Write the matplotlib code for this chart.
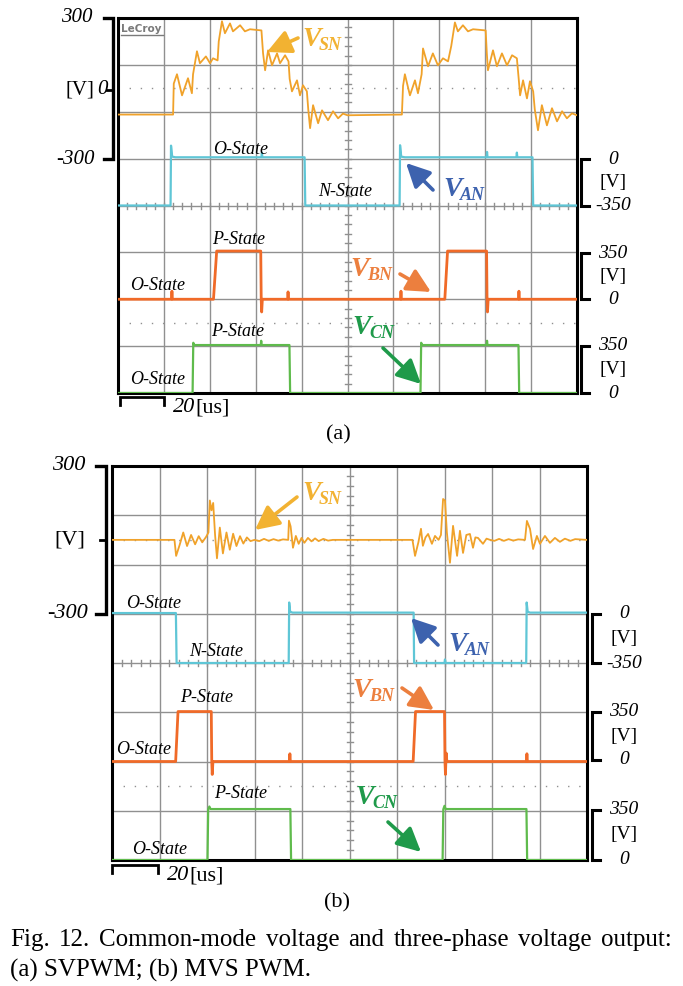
import matplotlib.pyplot as plt
from matplotlib.patches import FancyArrowPatch

plt.rcParams['font.family'] = ['Liberation Serif', 'DejaVu Serif']

W, H = 683, 986

# time axis of both scope shots: 20 us/div, 10 div
t_span = 200

# (a) SVPWM traces, time in us, voltage in V
svpwm_vsn_t = [0, 24.0, 24.3, 25.7, 27.9, 30.5, 32.2, 32.7, 34.4, 35.7, 38.3, 40.1, 41.4, 43.4,
               43.9, 45.3, 46.6, 48.8, 50.1, 53.2, 55.3, 57.5, 62.5, 63.2, 64.1, 65.4, 67.1, 69.3,
               70.6, 72.8, 74.3, 74.8, 75.8, 78.0, 79.3, 80.6, 82.3, 82.9, 83.7, 85.0, 87.2, 88.9,
               91.5, 93.7, 95.9, 98.0, 100.0, 123.7, 124.2, 125.0, 127.2, 129.4, 130.7, 132.3,
               132.9, 135.1, 137.2, 139.4, 141.6, 143.8, 145.2, 146.8, 148.1, 150.3, 152.5, 154.7,
               160.2, 160.7, 161.2, 163.4, 165.1, 167.3, 169.5, 171.7, 173.8, 174.6, 175.2, 176.5,
               178.2, 179.5, 180.9, 181.6, 183.0, 184.7, 186.9, 189.1, 191.3, 193.5, 195.6, 197.8, 200]
svpwm_vsn_v = [-112, -112, 20, 60, -30, 43, -21, 60, 158, 107, 136, 107, 128, 119,
               200, 286, 235, 277, 243, 269, 243, 252, 247, 150, 77, 162, 98, 149,
               107, 141, 115, 40, -13, 34, -30, 13, -13, -90, -170, -72, -149, -94,
               -136, -98, -128, -108, -115, -112, 10, 60, -30, 34, -21, 60,
               170, 94, 149, 98, 128, 115, 180, 281, 243, 269, 243, 252,
               247, 150, 77, 162, 94, 149, 98, 141, 128, 40, -30, 34,
               -43, 30, -13, -90, -179, -72, -158, -85, -141, -98, -128, -107, -115]

svpwm_van_t = [0, 22.9, 23.1, 23.6, 25, 62.5, 62.7, 62.9, 81.3, 81.6, 122.7, 122.9, 123.4, 125,
               160.6, 160.8, 161.0, 173.6, 173.8, 174.0, 180.6, 180.9, 200]
svpwm_van_v = [-350, -350, 97, 15, 10, 10, 45, 10, 10, -350, -350, 100, 15, 10,
               10, 50, 10, 10, 45, 10, 10, -350, -350]

svpwm_vbn_t = [0, 23.3, 23.5, 23.7, 41.6, 43.0, 62.2, 62.4, 62.6, 62.9, 73.9, 74.1, 74.3,
               123.1, 123.3, 123.5, 142.4, 143.6, 160.6, 160.8, 161.0, 161.3, 174.5, 174.7, 174.9, 200]
svpwm_vbn_v = [0, 0, 60, 0, 0, 360, 360, 0, -95, 0, 0, 55, 0,
               0, 60, 0, 0, 360, 360, 0, -95, 0, 0, 60, 0, 0]

svpwm_vcn_t = [0, 32.5, 32.8, 33.2, 62.2, 62.4, 62.6, 74.7, 75.0, 131.8, 132.1, 132.5,
               160.6, 160.8, 161.0, 174.5, 174.8, 200]
svpwm_vcn_v = [0, 0, 375, 358, 358, 390, 358, 358, 0, 0, 375, 358,
               358, 390, 358, 358, 0, 0]

# (b) MVS PWM traces
mvs_vsn_t = [0, 26.3, 27.0, 28.5, 30.0, 31.6, 33.3, 35.0, 36.5, 38.0, 39.6, 40.6, 41.2, 41.9,
             42.6, 43.4, 44.2, 45.4, 46.7, 48.2, 49.6, 51.0, 52.4, 53.9, 55.3, 56.8, 58.3, 60.0,
             62, 64, 66, 68, 70, 72, 74.2, 74.5, 75.2, 76.2, 77.4, 78.6, 79.8, 81.0, 82.5, 84.0,
             85.5, 87.0, 89.0, 91.0, 93.0, 126.5, 127.6, 129.0, 130.1, 130.9, 132.0, 133.1,
             134.7, 136.0, 137.5, 138.5, 139.4, 140.2, 141.0, 142.3, 143.6, 145.3, 146.5, 147.8,
             149.2, 150.7, 152.0, 153.0, 154.1, 156.2, 157.7, 159.2, 161, 163, 165, 167, 169, 171,
             173.9, 174.7, 176.0, 177.3, 178.9, 180.2, 182.3, 184.4, 186.5, 188.6, 190.7, 193.0,
             195.0, 200]
mvs_vsn_v = [0, 0, -65, -20, 30, -25, 20, -18, 15, -10, 12, 30, 160, 120,
             150, 20, -75, 50, -55, 30, -40, 25, -25, 15, -15, 10, -5, 0,
             -5, 4, -4, 3, -3, 2, 0, 78, 55, -32, 16, -16, 8, -12, 8, -6,
             6, -5, 4, -3, 0, 0, -65, -10, 45, -24, 10, 24,
             -16, 16, 0, 20, 166, 160, 30, -93, 57, -65, 37, -53,
             20, 24, -32, 10, 8, -16, 5, 0, -4, 4, -4, 3, -3, 2,
             0, 77, 45, -37, 16, -16, 16, -12, 8, -8, 5, -4,
             3, 0]

mvs_van_t = [0, 26.9, 27.2, 74.4, 74.6, 75.0, 76, 127.0, 127.2, 140.0, 140.2, 140.4,
             174.4, 174.6, 175.0, 176, 200]
mvs_van_v = [5, 5, -350, -350, 80, 15, 8, 8, -350, -350, -325, -350,
             -350, 80, 15, 8, 8]

mvs_vbn_t = [0, 26.8, 27.8, 41.8, 42.0, 42.2, 42.5, 74.7, 74.9, 75.1, 126.8, 127.8,
             140.0, 140.2, 140.4, 140.7, 141.0, 174.5, 174.7, 174.9, 200]
mvs_vbn_v = [0, 0, 355, 355, 0, -92, 0, 0, 55, 0, 0, 355,
             355, 0, -92, 60, 0, 0, 55, 0, 0]

mvs_vcn_t = [0, 40.2, 40.5, 41.0, 41.5, 75.1, 75.4, 139.2, 139.5, 140.0, 140.5, 174.5, 174.8, 200]
mvs_vcn_v = [0, 0, 360, 380, 362, 362, 0, 0, 360, 385, 362, 362, 0, 0]

caption_1 = 'Fig. 12. Common-mode voltage and three-phase voltage output:'
caption_2 = '(a) SVPWM; (b) MVS PWM.'

GRID = '#909090'
C_SN, C_AN, C_BN, C_CN = '#f0a22a', '#5fc6d6', '#f06a28', '#5fbb4c'
T_SN, T_AN, T_BN, T_CN = '#f2b232', '#3d62ae', '#ec7f3e', '#1f9a4a'

fig = plt.figure(figsize=(W / 100, H / 100), dpi=100)


def px_rect(x0, y0, x1, y1):
    return [x0 / W, 1 - y1 / H, (x1 - x0) / W, (y1 - y0) / H]


def scope(box, traces, name):
    rect = px_rect(*box)
    ax = fig.add_axes(rect, label=name)
    ax.set_xlim(0, t_span)
    ax.set_ylim(0, 8)
    ax.set_xticks([])
    ax.set_yticks([])
    for s in ax.spines.values():
        s.set_linewidth(2.2)
        s.set_zorder(5)
    for k in range(1, 10):
        ax.axvline(k * 20, color=GRID, lw=1.0)
    for k in range(1, 8):
        ax.axhline(k, color=GRID, lw=1.0)
    for d in (1.5, 6.5):
        ax.axhline(d, color=GRID, lw=1.0, ls=(0, (1, 7)))
    # minor ticks on the centre cross
    hx = 3 * t_span / (box[2] - box[0])
    hy = 3 * 8 / (box[3] - box[1])
    for k in range(1, 50):
        ax.plot([k * 4, k * 4], [4 - hy, 4 + hy], color=GRID, lw=1.0)
    for k in range(1, 40):
        ax.plot([100 - hx, 100 + hx], [k * 0.2, k * 0.2], color=GRID, lw=1.0)

    for i, (t, v, zero_div, vpd, color, lw) in enumerate(traces):
        a = fig.add_axes(rect, label=f'{name}_{i}')
        a.set_xlim(0, t_span)
        a.set_ylim(-zero_div * vpd, (8 - zero_div) * vpd)
        a.axis('off')
        a.plot(t, v, color=color, lw=lw)
    return ax


box_a = (118, 18, 577, 393)
box_b = (112, 466, 587, 860)

scope(box_a, [
    (svpwm_vsn_t, svpwm_vsn_v, 6.5, 200, C_SN, 1.3),
    (svpwm_van_t, svpwm_van_v, 5, 350, C_AN, 1.6),
    (svpwm_vbn_t, svpwm_vbn_v, 2, 350, C_BN, 2.0),
    (svpwm_vcn_t, svpwm_vcn_v, 0, 350, C_CN, 1.6),
], 'a')

scope(box_b, [
    (mvs_vsn_t, mvs_vsn_v, 6.5, 200, C_SN, 1.3),
    (mvs_van_t, mvs_van_v, 5, 350, C_AN, 1.6),
    (mvs_vbn_t, mvs_vbn_v, 2, 350, C_BN, 2.0),
    (mvs_vcn_t, mvs_vcn_v, 0, 350, C_CN, 1.6),
], 'b')

# overlay in pixel coordinates for labels, brackets and arrows
ov = fig.add_axes([0, 0, 1, 1], label='overlay')
ov.set_xlim(0, W)
ov.set_ylim(H, 0)
ov.axis('off')


def vname(x, y, sub, color):
    ov.text(x, y, 'V', color=color, fontsize=20, fontweight='bold', fontstyle='italic',
            ha='left', va='baseline')
    ov.text(x + 17, y + 4, sub, color=color, fontsize=13, fontweight='bold',
            fontstyle='italic', ha='left', va='baseline')


def arrow(tail, tip, color):
    ov.add_patch(FancyArrowPatch(tail, tip, arrowstyle='-|>,head_length=9,head_width=4.5',
                                 color=color, lw=2.6, mutation_scale=1.6, shrinkA=0, shrinkB=0))


def state(x, y, s):
    ov.text(x, y, s, fontsize=13, fontstyle='italic', ha='center', va='center')


def right_bracket(x, y0, y1, labels):
    ov.plot([x + 8, x, x, x + 8], [y0, y0, y1, y1], color='black', lw=2.2,
            solid_joinstyle='miter')
    for yy, s, st in zip((y0, (y0 + y1) / 2, y1), labels, ('italic', 'normal', 'italic')):
        ov.text(x + 32, yy, s, fontsize=14, fontstyle=st, ha='center', va='center')


def scale_bar(x0, x1, y):
    ov.plot([x0, x0, x1, x1], [y + 8, y, y, y + 8], color='black', lw=2.0,
            solid_joinstyle='miter')


def justified(x0, x1, y, s, **kw):
    words = s.split()
    r = fig.canvas.get_renderer()
    arts = [ov.text(0, y, w, ha='left', va='center', **kw) for w in words]
    widths = [a.get_window_extent(r).width for a in arts]
    gap = (x1 - x0 - sum(widths)) / (len(words) - 1)
    x = x0
    for a, w in zip(arts, widths):
        a.set_x(x)
        x += w + gap


# ---- panel (a) decorations ----
ov.plot([104, 113, 113, 104], [18, 18, 159, 159], color='black', lw=2.4, solid_joinstyle='miter')
ov.plot([107, 113], [90, 90], color='black', lw=2.0)
ov.text(93, 18, '300', fontsize=15, fontstyle='italic', ha='right', va='center')
ov.text(94, 90, '[V]', fontsize=15, ha='right', va='center')
ov.text(97, 90, '0', fontsize=15, fontstyle='italic', ha='left', va='center')
ov.text(95, 159, '-300', fontsize=15, fontstyle='italic', ha='right', va='center')

ov.text(121, 29, 'LeCroy', family='DejaVu Sans', fontsize=7.5, fontweight='bold',
        color='#7a7a7a', ha='left', va='center')
ov.plot([121, 163], [35, 35], color='#7a7a7a', lw=1.0)

right_bracket(581, 159, 206, ('0', '[V]', '-350'))
right_bracket(581, 253, 299, ('350', '[V]', '0'))
right_bracket(581, 346, 393, ('350', '[V]', '0'))

scale_bar(120, 164, 397)
ov.text(173, 408, '20', fontsize=16, fontstyle='italic', ha='left', va='center')
ov.text(195, 408, '[us]', fontsize=16, ha='left', va='center')
ov.text(338, 435, '(a)', fontsize=16, ha='center', va='center')

vname(302, 46, 'SN', T_SN)
arrow((298, 38), (267, 52), T_SN)
state(241, 150, 'O-State')
state(345, 192, 'N-State')
vname(443, 196, 'AN', T_AN)
arrow((433, 190), (406, 163), T_AN)
state(239, 239, 'P-State')
state(158, 285, 'O-State')
vname(350, 276, 'BN', T_BN)
arrow((400, 274), (431, 292), T_BN)
state(238, 331, 'P-State')
state(158, 379, 'O-State')
vname(352, 334, 'CN', T_CN)
arrow((383, 348), (421, 384), T_CN)

# ---- panel (b) decorations ----
ov.plot([96, 106, 106, 96], [466, 466, 614, 614], color='black', lw=2.4, solid_joinstyle='miter')
ov.plot([100, 106], [540, 540], color='black', lw=2.0)
ov.text(85, 465, '300', fontsize=16, fontstyle='italic', ha='right', va='center')
ov.text(85, 540, '[V]', fontsize=16, ha='right', va='center')
ov.text(88, 614, '-300', fontsize=16, fontstyle='italic', ha='right', va='center')

right_bracket(592, 614, 663, ('0', '[V]', '-350'))
right_bracket(592, 712, 760, ('350', '[V]', '0'))
right_bracket(592, 810, 860, ('350', '[V]', '0'))

scale_bar(112, 158, 865)
ov.text(167, 876, '20', fontsize=16, fontstyle='italic', ha='left', va='center')
ov.text(189, 876, '[us]', fontsize=16, ha='left', va='center')
ov.text(337, 903, '(b)', fontsize=16, ha='center', va='center')

vname(302, 500, 'SN', T_SN)
arrow((297, 497), (255, 530), T_SN)
state(154, 604, 'O-State')
state(216, 651, 'N-State')
vname(448, 651, 'AN', T_AN)
arrow((438, 645), (411, 618), T_AN)
state(207, 698, 'P-State')
state(144, 750, 'O-State')
vname(352, 697, 'BN', T_BN)
arrow((402, 688), (434, 710), T_BN)
state(241, 793, 'P-State')
state(160, 849, 'O-State')
vname(355, 804, 'CN', T_CN)
arrow((388, 822), (421, 852), T_CN)

# caption
justified(10, 672, 940, caption_1, fontsize=18)
ov.text(10, 970, caption_2, fontsize=18, ha='left', va='center')

fig.savefig('out.png', dpi=100)
